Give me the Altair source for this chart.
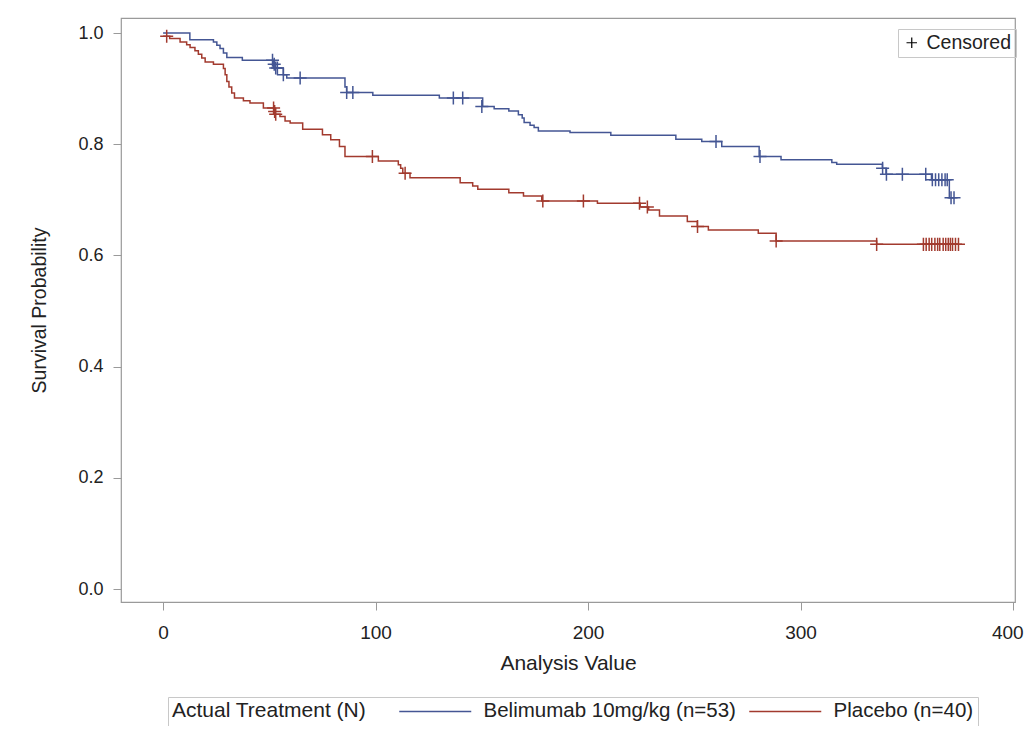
import altair as alt
import pandas as pd

groups = ["Belimumab 10mg/kg (n=53)", "Placebo (n=40)"]
colors = ["#445694", "#A23A2E"]

# Kaplan-Meier step curves (time, survival after step)
bel_time = [0, 12.6, 23.7, 25.3, 26.8, 28.4, 30.0, 37.3, 52.0, 56.6, 58.2, 85.6, 86.4,
            98.7, 130.0, 150.4, 155.8, 162.7, 167.2, 169.0, 169.9, 172.7, 174.6, 176.6,
            191.5, 210.7, 241.3, 253.5, 262.9, 280.5, 290.8, 314.7, 317.0, 338.5, 340.2,
            361.6, 370.0, 372.5]
bel_surv = [1.000, 0.988, 0.984, 0.978, 0.972, 0.964, 0.956, 0.951, 0.937, 0.925, 0.919,
            0.903, 0.893, 0.888, 0.883, 0.868, 0.864, 0.860, 0.853, 0.847, 0.839, 0.834,
            0.830, 0.824, 0.821, 0.816, 0.809, 0.805, 0.796, 0.778, 0.772, 0.767, 0.764,
            0.757, 0.746, 0.736, 0.704, 0.704]

pla_time = [0, 3.1, 8.0, 11.1, 12.7, 15.0, 16.6, 18.2, 19.8, 23.7, 28.4, 29.2, 30.0, 31.0,
            32.3, 33.6, 37.8, 40.9, 47.2, 52.5, 55.0, 57.4, 59.8, 65.7, 75.0, 78.9, 83.0,
            85.6, 101.3, 110.7, 111.8, 112.8, 116.2, 139.8, 145.7, 148.1, 162.7, 169.6,
            178.2, 204.4, 224.5, 228.5, 233.6, 246.7, 251.4, 256.6, 280.1, 288.5, 335.8,
            374.3]
pla_surv = [0.994, 0.990, 0.984, 0.979, 0.974, 0.968, 0.962, 0.955, 0.948, 0.944, 0.936,
            0.925, 0.913, 0.903, 0.892, 0.883, 0.878, 0.874, 0.865, 0.854, 0.850, 0.842,
            0.838, 0.827, 0.817, 0.808, 0.796, 0.778, 0.770, 0.763, 0.757, 0.748, 0.740,
            0.731, 0.725, 0.719, 0.713, 0.707, 0.698, 0.694, 0.687, 0.682, 0.671, 0.661,
            0.652, 0.646, 0.640, 0.626, 0.620, 0.620]

# Censored observations
bel_cens_time = [51.5, 52.3, 53.0, 53.8, 56.6, 64.5, 86.4, 89.3, 136.6, 141.0, 150.0, 260.2,
                 280.9, 338.6, 340.4, 347.9, 358.9, 362.0, 363.5, 365.0, 366.5, 368.0,
                 369.0, 370.8, 372.2]
bel_cens_surv = [0.951, 0.944, 0.937, 0.937, 0.925, 0.919, 0.893, 0.893, 0.883, 0.883,
                 0.868, 0.805, 0.778, 0.757, 0.746, 0.746, 0.746, 0.736, 0.736, 0.736,
                 0.736, 0.736, 0.736, 0.704, 0.704]
pla_cens_time = [1.7, 52.0, 52.5, 53.0, 98.5, 113.9, 178.7, 197.8, 224.2, 227.9, 251.5,
                 288.5, 335.8, 357.8, 359.1, 360.5, 361.7, 363.2, 364.5, 365.5, 367.1,
                 368.3, 369.5, 370.5, 371.5, 372.9, 374.3]
pla_cens_surv = [0.994, 0.865, 0.859, 0.854, 0.778, 0.748, 0.698, 0.698, 0.694, 0.687,
                 0.652, 0.626, 0.620, 0.620, 0.620, 0.620, 0.620, 0.620, 0.620, 0.620,
                 0.620, 0.620, 0.620, 0.620, 0.620, 0.620, 0.620]

x_ticks = [0, 100, 200, 300, 400]
y_ticks = [0.0, 0.2, 0.4, 0.6, 0.8, 1.0]

curve = pd.concat([
    pd.DataFrame({"t": bel_time, "s": bel_surv, "group": groups[0]}),
    pd.DataFrame({"t": pla_time, "s": pla_surv, "group": groups[1]}),
])
cens = pd.concat([
    pd.DataFrame({"t": bel_cens_time, "s": bel_cens_surv, "group": groups[0]}),
    pd.DataFrame({"t": pla_cens_time, "s": pla_cens_surv, "group": groups[1]}),
])
cens["mark"] = "Censored"

FONT = "Liberation Sans"
plus = "M-1,0H1M0,-1V1"
swatch = "M-1,0H7"   # long line swatch for the treatment legend

xscale = alt.Scale(domain=[-19.8, 400.9], nice=False, zero=False)
yscale = alt.Scale(domain=[-0.023, 1.027], nice=False, zero=False)
cscale = alt.Scale(domain=groups, range=colors)

xax = alt.Axis(values=x_ticks, title="Analysis Value", grid=False, format="d",
               labelFlush=5, labelFlushOffset=10)
yax = alt.Axis(values=y_ticks, title="Survival Probability", grid=False, format=".1f")

color_legend = alt.Legend(
    title="Actual Treatment (N)", orient="none", legendX=47, legendY=679,
    direction="horizontal", titleOrient="left", symbolType=swatch,
    symbolSize=324, symbolStrokeWidth=1.5, symbolFillColor="transparent",
    strokeColor="#c8c8c8",
    padding=4, titlePadding=31, columnPadding=10, labelOffset=65,
    labelLimit=400, titleLimit=400, labelFontSize=20.5, titleFontSize=21,
)

lines = alt.Chart(curve).mark_line(interpolate="step-after", strokeWidth=1.5).encode(
    x=alt.X("t:Q", scale=xscale, axis=xax),
    y=alt.Y("s:Q", scale=yscale, axis=yax),
    color=alt.Color("group:N", scale=cscale, legend=color_legend),
    detail="group:N",
    order="t:Q",
)

points = alt.Chart(cens).mark_point(filled=False, strokeWidth=1.5, size=170, opacity=1).encode(
    x=alt.X("t:Q", scale=xscale),
    y=alt.Y("s:Q", scale=yscale),
    color=alt.Color("group:N", scale=cscale, legend=color_legend),
    shape=alt.Shape("mark:N", scale=alt.Scale(domain=["Censored"], range=[plus]),
                    legend=alt.Legend(title=None, orient="none", legendX=777, legendY=11,
                                      strokeColor="#c8c8c8", padding=4,
                                      symbolStrokeColor="black", symbolFillColor="transparent",
                                      symbolSize=110, symbolStrokeWidth=1.2, labelOffset=5,
                                      labelFontSize=19.5)),
)

chart = alt.layer(lines, points).properties(
    width=894, height=584,
    autosize=alt.AutoSizeParams(type="none"),
    padding={"left": 113, "top": 10, "right": 10, "bottom": 124},
).configure_view(
    stroke="#9a9a9a", strokeWidth=1.2,
).configure_axis(
    labelFont=FONT, titleFont=FONT,
    labelColor="#222", titleColor="#222", titleFontWeight="normal",
    domain=False, tickColor="#9a9a9a", tickSize=8,
).configure_axisX(
    labelFontSize=19, titleFontSize=21, labelPadding=13, titlePadding=10,
).configure_axisY(
    labelFontSize=18, titleFontSize=19.5, labelPadding=10, titlePadding=28,
).configure_legend(
    labelFont=FONT, titleFont=FONT,
    labelColor="#222", titleColor="#222", titleFontWeight="normal",
)

chart.save("out.html", embed_options={"renderer": "svg", "actions": False})
